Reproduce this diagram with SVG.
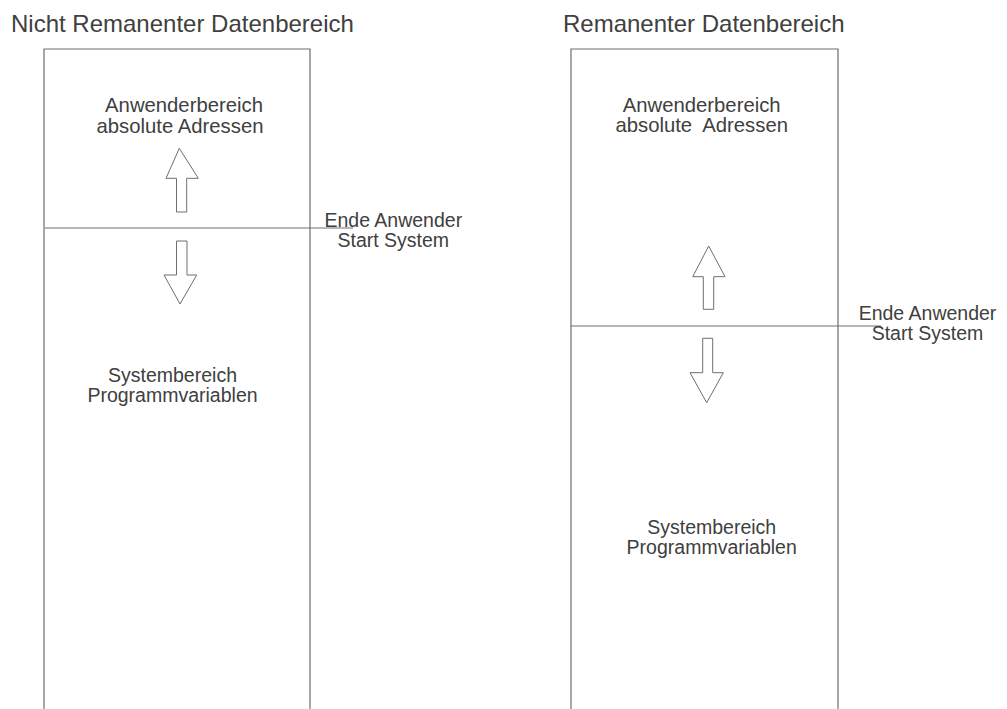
<svg xmlns="http://www.w3.org/2000/svg" width="1007" height="709" viewBox="0 0 1007 709">
<style>
.t{font-family:"Liberation Sans",Arial,sans-serif;fill:#404040}
.h{font-size:24px}
.l{font-size:19.5px;text-anchor:middle}
.u{font-size:20.3px}
.ln{fill:none;stroke:#6e6e6e;stroke-width:1.2}
.ar{fill:#fff;stroke:#6e6e6e;stroke-width:1}
</style>
<rect width="1007" height="709" fill="#fff"/>
<g id="left-area">
<text class="t h" x="11" y="32">Nicht Remanenter Datenbereich</text>
<path class="ln" d="M44,709 V49 H310 V709"/>
<text class="t l u" x="184" y="112">Anwenderbereich</text>
<text class="t l u" x="180" y="133">absolute Adressen</text>
<text class="t l" x="172.5" y="382">Systembereich</text>
<text class="t l" x="172.5" y="402">Programmvariablen</text>
</g>
<g id="right-area">
<text class="t h" x="563" y="32">Remanenter Datenbereich</text>
<path class="ln" d="M571,709 V49 H838 V709"/>
<text class="t l u" x="701.7" y="112" xml:space="preserve">Anwenderbereich</text>
<text class="t l u" x="701.7" y="132" xml:space="preserve">absolute  Adressen</text>
<text class="t l" x="711.7" y="533.5">Systembereich</text>
<text class="t l" x="711.7" y="553.5">Programmvariablen</text>
</g>
<g id="left-boundary">
<line class="ln" x1="45" y1="228" x2="353" y2="228"/>
<text class="t l" x="393.3" y="226.7">Ende Anwender</text>
<text class="t l" x="393.3" y="246.7">Start System</text>
</g>
<g id="right-boundary">
<line class="ln" x1="571" y1="326" x2="881" y2="326"/>
<text class="t l" x="927.5" y="320">Ende Anwender</text>
<text class="t l" x="927.5" y="340">Start System</text>
</g>
<g id="connectors">
<path class="ar" d="M176.5,212 V178.3 H166 L179.3,148.3 L198.3,178.3 H186.7 V212 Z"/>
<path class="ar" d="M176.5,241 H187 V275 H196.7 L180,304 L164,275 H176.5 Z"/>
<path class="ar" d="M703.3,309.3 V276.7 H692.7 L708.7,246 L725,276.7 H713.7 V309.3 Z"/>
<path class="ar" d="M702.7,338.3 H712.7 V372.7 H723.3 L706.7,402.7 L690,372.7 H702.7 Z"/>
</g>
</svg>
